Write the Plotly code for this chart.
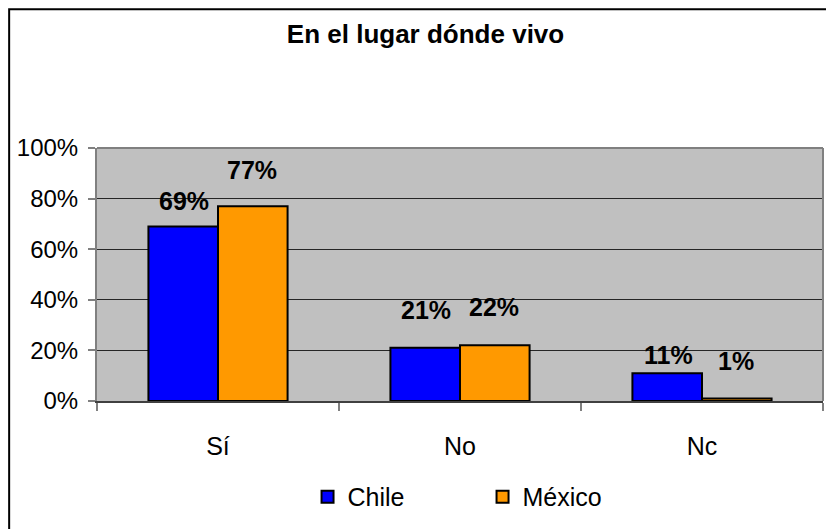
import plotly.graph_objects as go

# Datos del gráfico
categorias = ["Sí", "No", "Nc"]
chile = [69, 21, 11]
mexico = [77, 22, 1]
etiquetas_chile = ["69%", "21%", "11%"]
etiquetas_mexico = ["77%", "22%", "1%"]
ticks_y = [0, 20, 40, 60, 80, 100]
ticks_y_txt = ["0%", "20%", "40%", "60%", "80%", "100%"]

# Separación (px) de cada etiqueta sobre su barra, como en el original
lift_chile = [25, 38, 18]
lift_mexico = [36, 38, 37]

FONT = "Liberation Sans, Arial"

fig = go.Figure()

fig.add_trace(go.Bar(
    x=categorias, y=chile, name="Chile",
    marker=dict(color="#0000FF", line=dict(color="#000000", width=2)),
))
fig.add_trace(go.Bar(
    x=categorias, y=mexico, name="México",
    marker=dict(color="#FF9900", line=dict(color="#000000", width=2)),
))

# Etiquetas de datos
for cat, v, t, d in zip(categorias, chile, etiquetas_chile, lift_chile):
    fig.add_annotation(x=cat, y=v, text=f"<b>{t}</b>", showarrow=False,
                       xshift=-34, yshift=d, yanchor="middle",
                       font=dict(family=FONT, size=25, color="#000"))
for cat, v, t, d in zip(categorias, mexico, etiquetas_mexico, lift_mexico):
    fig.add_annotation(x=cat, y=v, text=f"<b>{t}</b>", showarrow=False,
                       xshift=34, yshift=d, yanchor="middle",
                       font=dict(family=FONT, size=25, color="#000"))

# Marco exterior del gráfico (recortado a la derecha y abajo)
fig.add_shape(type="rect", xref="paper", yref="paper",
              x0=-0.121, x1=1.05, y0=-0.7, y1=1.548,
              line=dict(color="#000000", width=2), layer="below")
# Borde del área de trazado (arriba y derecha)
fig.add_shape(type="line", xref="paper", yref="paper", x0=0, x1=1, y0=1, y1=1,
              line=dict(color="#808080", width=2))
fig.add_shape(type="line", xref="paper", yref="paper", x0=1, x1=1, y0=0, y1=1,
              line=dict(color="#808080", width=2))

fig.update_layout(
    width=826, height=521,
    margin=dict(l=89, r=11, t=140, b=128, autoexpand=False),
    barmode="group", bargap=0.425, bargroupgap=0,
    plot_bgcolor="#C0C0C0", paper_bgcolor="#FFFFFF",
    font=dict(family=FONT, size=24, color="#000000"),
    title=dict(text="<b>En el lugar dónde vivo</b>", xref="paper", x=0.4525,
               xanchor="center", yref="container", y=0.95, yanchor="middle",
               font=dict(family=FONT, size=26, color="#000")),
    xaxis=dict(showgrid=False, showline=True, linecolor="#404040", linewidth=1.5,
               ticks="outside", tickson="boundaries", ticklen=8, tickcolor="#808080",
               tickwidth=1.5, ticklabelstandoff=22, zeroline=False, automargin=False,
               tickfont=dict(size=25)),
    yaxis=dict(range=[0, 100], tickvals=ticks_y, ticktext=ticks_y_txt,
               showgrid=True, gridcolor="#262626", gridwidth=1,
               showline=True, linecolor="#808080", linewidth=2,
               ticks="outside", ticklen=7, tickcolor="#808080", tickwidth=1.5,
               ticklabelstandoff=5, zeroline=False, automargin=False),
    legend=dict(orientation="h", x=0.29, xanchor="left", y=-0.379, yanchor="middle",
                entrywidth=130, entrywidthmode="pixels",
                font=dict(family=FONT, size=25, color="#000"),
                bgcolor="rgba(0,0,0,0)"),
    showlegend=True,
)

fig.write_html("out.html")
